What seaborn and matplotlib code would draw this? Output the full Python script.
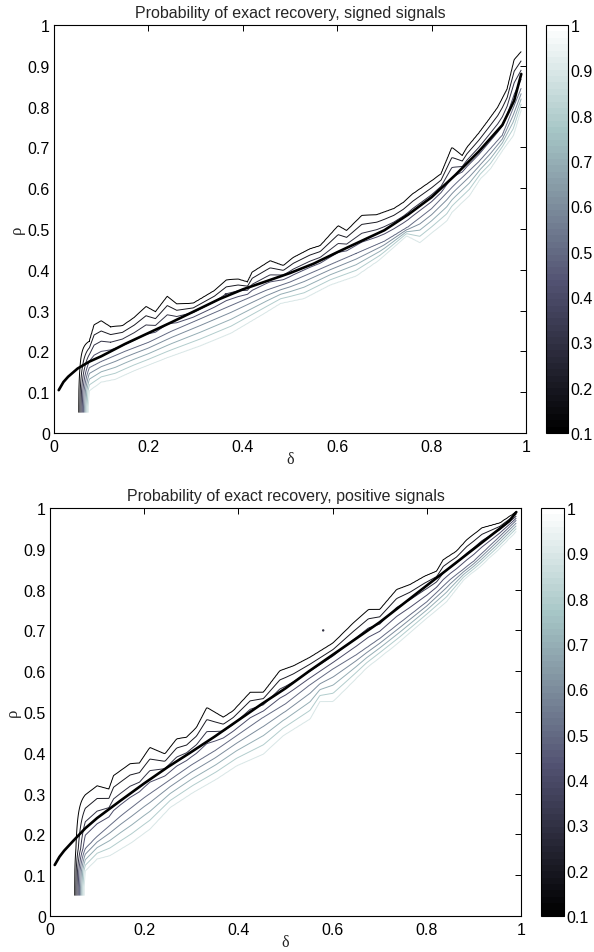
import numpy as np
import matplotlib
matplotlib.use("Agg")
import matplotlib.pyplot as plt
import seaborn as sns
from matplotlib.colors import Normalize
from matplotlib.cm import ScalarMappable
from matplotlib.ticker import FuncFormatter

# contour levels and colour scale
CONTOUR_LEVELS = [0.1, 0.2, 0.3, 0.4, 0.5, 0.6, 0.7, 0.8, 0.9]
COLORBAR_TICKS = [0.1, 0.2, 0.3, 0.4, 0.5, 0.6, 0.7, 0.8, 0.9, 1.0]

# theoretical phase transition curves
CURVE_DELTA = [0.01, 0.02, 0.03, 0.05, 0.075, 0.1, 0.15, 0.2, 0.25, 0.3, 0.35, 0.4,
               0.45, 0.5, 0.55, 0.6, 0.65, 0.7, 0.75, 0.8, 0.85, 0.9, 0.95, 0.975, 0.99]
SIGNED_CURVE_RHO = [0.105, 0.125, 0.138, 0.158, 0.175, 0.188, 0.218, 0.245, 0.272, 0.300,
                    0.328, 0.352, 0.372, 0.392, 0.415, 0.443, 0.470, 0.497, 0.535, 0.578,
                    0.632, 0.690, 0.755, 0.815, 0.880]
POSITIVE_CURVE_RHO = [0.125, 0.145, 0.160, 0.185, 0.215, 0.240, 0.283, 0.325, 0.365, 0.402,
                      0.440, 0.480, 0.520, 0.558, 0.600, 0.640, 0.680, 0.720, 0.765, 0.810,
                      0.855, 0.900, 0.945, 0.968, 0.990]

# signed signals: empirical contours (10%, 50%, 90% success)
SIGNED_P10_DELTA = [0.075, 0.085, 0.10, 0.12, 0.145, 0.17, 0.195, 0.215, 0.24, 0.26, 0.295,
                    0.34, 0.365, 0.39, 0.41, 0.42, 0.458, 0.486, 0.507, 0.542, 0.564, 0.602,
                    0.62, 0.652, 0.684, 0.72, 0.74, 0.76, 0.80, 0.82, 0.843, 0.865, 0.875,
                    0.90, 0.92, 0.94, 0.96, 0.975, 0.99]
SIGNED_P10_RHO = [0.225, 0.265, 0.275, 0.260, 0.263, 0.283, 0.310, 0.297, 0.335, 0.316, 0.318,
                  0.349, 0.375, 0.377, 0.370, 0.394, 0.422, 0.410, 0.430, 0.451, 0.459, 0.508,
                  0.496, 0.533, 0.535, 0.550, 0.565, 0.586, 0.618, 0.635, 0.700, 0.680, 0.700,
                  0.735, 0.766, 0.798, 0.843, 0.915, 0.935]
SIGNED_P50_DELTA = [0.075, 0.1, 0.15, 0.2, 0.25, 0.3, 0.35, 0.4, 0.45, 0.5, 0.55, 0.6,
                    0.65, 0.7, 0.75, 0.8, 0.85, 0.9, 0.95, 0.99]
SIGNED_P50_RHO = [0.160, 0.175, 0.200, 0.222, 0.250, 0.275, 0.300, 0.325, 0.350, 0.370,
                  0.395, 0.420, 0.445, 0.470, 0.505, 0.550, 0.610, 0.665, 0.730, 0.845]
SIGNED_P90_DELTA = [0.075, 0.10, 0.13, 0.17, 0.24, 0.31, 0.375, 0.445, 0.48, 0.53, 0.585,
                    0.64, 0.69, 0.747, 0.775, 0.832, 0.843, 0.88, 0.903, 0.924, 0.952,
                    0.973, 0.99]
SIGNED_P90_RHO = [0.104, 0.125, 0.132, 0.153, 0.185, 0.214, 0.245, 0.293, 0.318, 0.330, 0.363,
                  0.385, 0.425, 0.484, 0.467, 0.520, 0.541, 0.582, 0.623, 0.647, 0.696,
                  0.729, 0.794]

# positive signals: empirical contours (10%, 50%, 90% success)
POSITIVE_P10_DELTA = [0.075, 0.10, 0.125, 0.135, 0.17, 0.19, 0.212, 0.244, 0.269, 0.29, 0.311,
                      0.333, 0.368, 0.389, 0.425, 0.453, 0.488, 0.517, 0.552, 0.601, 0.644,
                      0.676, 0.70, 0.736, 0.764, 0.796, 0.821, 0.835, 0.863, 0.885, 0.917,
                      0.955, 0.99]
POSITIVE_P10_RHO = [0.297, 0.319, 0.311, 0.344, 0.373, 0.375, 0.413, 0.397, 0.434, 0.438, 0.462,
                    0.511, 0.487, 0.503, 0.548, 0.548, 0.601, 0.613, 0.634, 0.669, 0.718,
                    0.751, 0.751, 0.800, 0.812, 0.833, 0.845, 0.873, 0.894, 0.922, 0.951,
                    0.963, 0.990]
POSITIVE_P50_DELTA = [0.075, 0.1, 0.15, 0.2, 0.25, 0.3, 0.35, 0.4, 0.45, 0.5, 0.55, 0.6,
                      0.65, 0.7, 0.75, 0.8, 0.85, 0.9, 0.95, 0.99]
POSITIVE_P50_RHO = [0.165, 0.195, 0.245, 0.290, 0.330, 0.370, 0.405, 0.445, 0.485, 0.520,
                    0.565, 0.605, 0.640, 0.680, 0.725, 0.770, 0.825, 0.870, 0.925, 0.970]
POSITIVE_P90_DELTA = [0.075, 0.10, 0.127, 0.173, 0.212, 0.255, 0.304, 0.354, 0.396, 0.453,
                      0.495, 0.552, 0.573, 0.601, 0.63, 0.672, 0.743, 0.764, 0.80, 0.842,
                      0.878, 0.913, 0.948, 0.99]
POSITIVE_P90_RHO = [0.111, 0.140, 0.148, 0.180, 0.213, 0.266, 0.303, 0.336, 0.368, 0.397,
                    0.442, 0.483, 0.526, 0.526, 0.559, 0.608, 0.673, 0.694, 0.730, 0.771,
                    0.824, 0.857, 0.894, 0.943]

# tiny isolated contour islands
SIGNED_ISLAND = ([0.364], [0.340])
POSITIVE_ISLAND = ([0.580], [0.700])

TITLES = ["Probability of exact recovery, signed signals",
          "Probability of exact recovery, positive signals"]


def probability_field(p10, p50, p90):
    # first grid column (delta = 0.05) has no recovery at all
    deltas = np.concatenate([[0.05], np.arange(0.075, 0.99 + 1e-9, 0.0025)])
    rhos = np.arange(0.05, 1.0 + 1e-9, 0.0025)
    field = np.zeros((len(rhos), len(deltas)))
    for j, d in enumerate(deltas[1:], start=1):
        hi = np.interp(d, *p10)
        mid = np.interp(d, *p50)
        lo = np.interp(d, *p90)
        field[:, j] = np.interp(rhos, [lo - 0.04, lo, mid, hi, hi + 0.04],
                                [1.0, 0.9, 0.5, 0.1, 0.0])
    return deltas, rhos, field


sns.set_style("white")
plt.rcParams["font.family"] = ["Liberation Sans", "DejaVu Sans"]

cmap = plt.get_cmap("bone").resampled(64)
norm = Normalize(vmin=0.1, vmax=1.0)
fmt = FuncFormatter(lambda v, _: f"{v:g}")
FS = 11.5

fig = plt.figure(figsize=(5.94, 9.53), dpi=100)
panels = [
    ([0.0909, 0.5446, 0.7946, 0.4281], [0.9192, 0.5446, 0.0370, 0.4281],
     (SIGNED_P10_DELTA, SIGNED_P10_RHO), (SIGNED_P50_DELTA, SIGNED_P50_RHO),
     (SIGNED_P90_DELTA, SIGNED_P90_RHO), SIGNED_CURVE_RHO, SIGNED_ISLAND),
    ([0.0842, 0.0378, 0.7929, 0.4281], [0.9108, 0.0378, 0.0387, 0.4281],
     (POSITIVE_P10_DELTA, POSITIVE_P10_RHO), (POSITIVE_P50_DELTA, POSITIVE_P50_RHO),
     (POSITIVE_P90_DELTA, POSITIVE_P90_RHO), POSITIVE_CURVE_RHO, POSITIVE_ISLAND),
]

for (rect, crect, p10, p50, p90, curve, island), title in zip(panels, TITLES):
    ax = fig.add_axes(rect)
    d, r, field = probability_field(p10, p50, p90)
    ax.contour(d, r, field, levels=CONTOUR_LEVELS, cmap=cmap, norm=norm, linewidths=0.7)
    sns.lineplot(x=CURVE_DELTA, y=curve, ax=ax, color="black", linewidth=1.9,
                 sort=False, estimator=None)
    sns.scatterplot(x=island[0], y=island[1], ax=ax, s=3, color="#333344",
                    edgecolor="none", zorder=5)

    ax.set_xlim(0, 1)
    ax.set_ylim(0, 1)
    ax.set_xticks(np.linspace(0, 1, 6))
    ax.set_yticks(np.linspace(0, 1, 11))
    ax.xaxis.set_major_formatter(fmt)
    ax.yaxis.set_major_formatter(fmt)
    ax.tick_params(direction="in", top=True, right=True, length=4, width=0.7,
                   labelsize=FS, colors="black")
    ax.tick_params(axis="x", pad=4.5)
    ax.tick_params(axis="y", pad=3)
    for s in ax.spines.values():
        s.set_color("black")
        s.set_linewidth(0.8)
    ax.set_title(title, fontsize=FS, pad=6)
    ax.set_xlabel("δ", fontsize=11.5, family="Liberation Serif", labelpad=-2)
    ax.set_ylabel("ρ", fontsize=12, family="Liberation Serif", labelpad=2)

    cax = fig.add_axes(crect)
    cb = fig.colorbar(ScalarMappable(norm=norm, cmap=cmap), cax=cax,
                      ticks=COLORBAR_TICKS, format=fmt)
    cb.outline.set_linewidth(0.8)
    cb.outline.set_edgecolor("black")
    cax.tick_params(direction="in", length=4, width=0.7, labelsize=FS, pad=2,
                    colors="black")

fig.savefig("out.png", dpi=100)
